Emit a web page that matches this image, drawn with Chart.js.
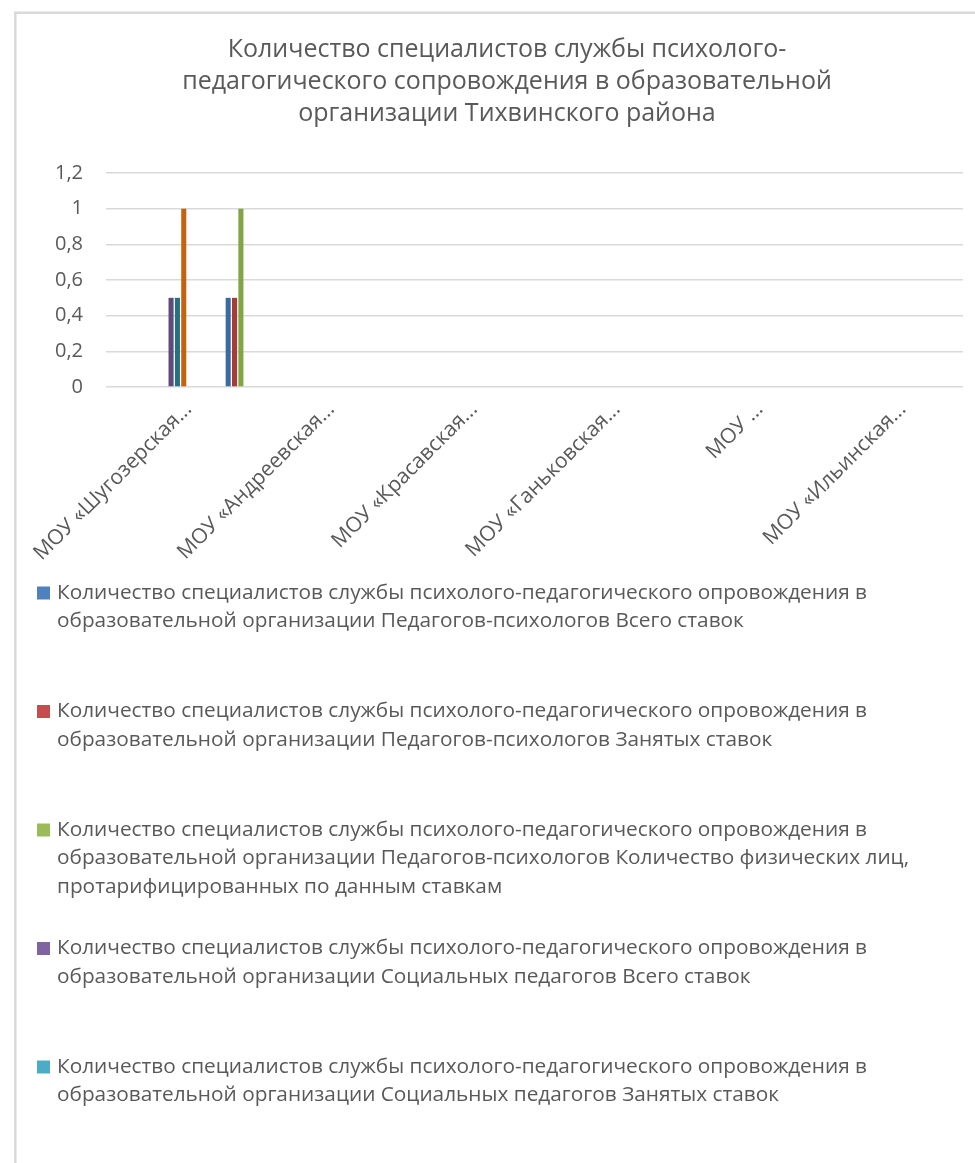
<!DOCTYPE html>
<html lang="ru">
<head>
<meta charset="utf-8">
<title>Количество специалистов службы психолого-педагогического сопровождения</title>
<script src="https://cdn.jsdelivr.net/npm/chart.js@4.4.1/dist/chart.umd.min.js"></script>
<style>
html, body { margin: 0; padding: 0; background: #ffffff; }
#wrap { width: 975px; height: 1163px; position: relative; overflow: hidden; }
canvas { display: block; }
</style>
</head>
<body>
<div id="wrap"><canvas id="chart" width="975" height="1163"></canvas></div>
<script>
// ---------- DATA ----------
const chartTitle = [
  'Количество специалистов службы психолого-',
  'педагогического сопровождения в образовательной',
  'организации Тихвинского района'
];

const categories = [
  'МОУ «Шугозерская...',
  'МОУ «Андреевская...',
  'МОУ «Красавская...',
  'МОУ «Ганьковская...',
  'МОУ ...',
  'МОУ «Ильинская...'
];

const yTickLabels = ['0', '0,2', '0,4', '0,6', '0,8', '1', '1,2'];

const seriesLabels = [
  'Количество специалистов службы психолого-педагогического опровождения в образовательной организации Педагогов-психологов Всего ставок',
  'Количество специалистов службы психолого-педагогического опровождения в образовательной организации Педагогов-психологов Занятых ставок',
  'Количество специалистов службы психолого-педагогического опровождения в образовательной организации Педагогов-психологов Количество физических лиц, протарифицированных по данным ставкам',
  'Количество специалистов службы психолого-педагогического опровождения в образовательной организации Социальных педагогов Всего ставок',
  'Количество специалистов службы психолого-педагогического опровождения в образовательной организации Социальных педагогов Занятых ставок',
  'Ряд 6', 'Ряд 7', 'Ряд 8', 'Ряд 9', 'Ряд 10', 'Ряд 11', 'Ряд 12', 'Ряд 13',
  'Ряд 14', 'Ряд 15', 'Ряд 16', 'Ряд 17', 'Ряд 18', 'Ряд 19', 'Ряд 20', 'Ряд 21'
];

// values per series, one per category
const s01 = [0, 0, 0, 0, 0, 0];
const s02 = [0, 0, 0, 0, 0, 0];
const s03 = [0, 0, 0, 0, 0, 0];
const s04 = [0, 0, 0, 0, 0, 0];
const s05 = [0, 0, 0, 0, 0, 0];
const s06 = [0, 0, 0, 0, 0, 0];
const s07 = [0, 0, 0, 0, 0, 0];
const s08 = [0, 0, 0, 0, 0, 0];
const s09 = [0, 0, 0, 0, 0, 0];
const s10 = [0.5, 0, 0, 0, 0, 0];
const s11 = [0.5, 0, 0, 0, 0, 0];
const s12 = [1, 0, 0, 0, 0, 0];
const s13 = [0, 0, 0, 0, 0, 0];
const s14 = [0, 0, 0, 0, 0, 0];
const s15 = [0, 0, 0, 0, 0, 0];
const s16 = [0, 0, 0, 0, 0, 0];
const s17 = [0, 0, 0, 0, 0, 0];
const s18 = [0, 0, 0, 0, 0, 0];
const s19 = [0.5, 0, 0, 0, 0, 0];
const s20 = [0.5, 0, 0, 0, 0, 0];
const s21 = [1, 0, 0, 0, 0, 0];

// ---------- STYLE ----------
const seriesColors = [
  '#4F81BD', '#C0504D', '#9BBB59', '#8064A2', '#4BACC6', '#F79646',
  '#2C4D75', '#772C2A', '#5F7530', '#5E4A7C', '#26717F', '#C4620E',
  '#729ACA', '#CD7371', '#AFC97A', '#9983B5', '#6FBDD1', '#F9AB6B',
  '#3A6AA2', '#A63B39', '#83A444'
];
const FONT = "'Open Sans', 'DejaVu Sans', sans-serif";
const TEXT_COLOR = '#595959';
const GRID_COLOR = '#D9D9D9';

const seriesValues = [s01, s02, s03, s04, s05, s06, s07, s08, s09, s10, s11,
  s12, s13, s14, s15, s16, s17, s18, s19, s20, s21];

// chart frame (Excel chart area border, cropped on right/bottom)
const framePlugin = {
  id: 'frame',
  beforeDraw(chart) {
    const ctx = chart.ctx;
    ctx.save();
    ctx.fillStyle = '#ffffff';
    ctx.fillRect(0, 0, chart.width, chart.height);
    ctx.strokeStyle = GRID_COLOR;
    ctx.lineWidth = 2.5;
    ctx.beginPath();
    ctx.moveTo(15.3, chart.height);
    ctx.lineTo(15.3, 12.8);
    ctx.lineTo(chart.width, 12.8);
    ctx.stroke();
    ctx.restore();
  }
};

function wrapText(ctx, text, maxWidth) {
  const words = text.split(' ');
  const lines = [];
  let cur = '';
  words.forEach(w => {
    const test = cur ? cur + ' ' + w : w;
    if (cur && ctx.measureText(test).width > maxWidth) {
      lines.push(cur);
      cur = w;
    } else {
      cur = test;
    }
  });
  if (cur) lines.push(cur);
  return lines;
}

// Excel-like legend below the plot: one entry per row, text wrapped
const legendPlugin = {
  id: 'excelLegend',
  afterDraw(chart, args, opts) {
    const ctx = chart.ctx;
    ctx.save();
    ctx.font = opts.fontSize + 'px ' + FONT;
    ctx.textBaseline = 'middle';
    ctx.textAlign = 'left';
    let y = chart.scales.x.bottom + opts.offsetTop;
    chart.data.datasets.forEach(ds => {
      if (y - opts.fontSize > chart.height) return;
      const lines = wrapText(ctx, ds.label, opts.maxWidth);
      ctx.fillStyle = ds.backgroundColor;
      ctx.fillRect(opts.boxX, y - opts.boxSize / 2, opts.boxSize, opts.boxSize);
      ctx.fillStyle = TEXT_COLOR;
      lines.forEach((ln, i) => ctx.fillText(ln, opts.textX, y + i * opts.lineHeight));
      y += opts.itemSpacing;
    });
    ctx.restore();
  }
};

function build() {
  new Chart(document.getElementById('chart'), {
    type: 'bar',
    data: {
      labels: categories,
      datasets: seriesValues.map((vals, i) => ({
        label: seriesLabels[i],
        data: vals,
        backgroundColor: seriesColors[i],
        borderWidth: 0,
        categoryPercentage: 21 / 22.5,
        barPercentage: 0.8
      }))
    },
    options: {
      responsive: false,
      animation: false,
      layout: { padding: { left: 51, right: 12, top: 0, bottom: 576 } },
      plugins: {
        legend: { display: false },
        tooltip: { enabled: false },
        title: {
          display: true,
          text: chartTitle,
          color: TEXT_COLOR,
          font: { family: FONT, size: 25, weight: 'normal', lineHeight: 1.28 },
          padding: { top: 34, bottom: 43 }
        },
        excelLegend: {
          fontSize: 20.8,
          offsetTop: 6,
          boxX: 37,
          boxSize: 13,
          textX: 57,
          maxWidth: 905,
          lineHeight: 28.5,
          itemSpacing: 118.5
        }
      },
      scales: {
        x: {
          grid: { display: false },
          border: { display: false },
          ticks: {
            color: TEXT_COLOR,
            font: { family: FONT, size: 21 },
            minRotation: 45,
            maxRotation: 45,
            autoSkip: false,
            labelOffset: 11,
            padding: 2
          },
          afterFit(scale) { scale.height = 200; }
        },
        y: {
          min: 0,
          max: 1.2,
          ticks: {
            stepSize: 0.2,
            color: TEXT_COLOR,
            font: { family: FONT, size: 20 },
            padding: 23,
            callback: (v, i) => yTickLabels[i]
          },
          grid: { color: GRID_COLOR, lineWidth: 1.5, drawTicks: false },
          border: { display: false },
          afterFit(scale) { scale.width = 55; }
        }
      }
    },
    plugins: [framePlugin, legendPlugin]
  });
}

if (document.fonts && document.fonts.load) {
  Promise.all([
    document.fonts.load("20px 'Open Sans'"),
    document.fonts.load("25px 'Open Sans'")
  ]).then(build, build);
} else {
  build();
}
</script>
</body>
</html>
